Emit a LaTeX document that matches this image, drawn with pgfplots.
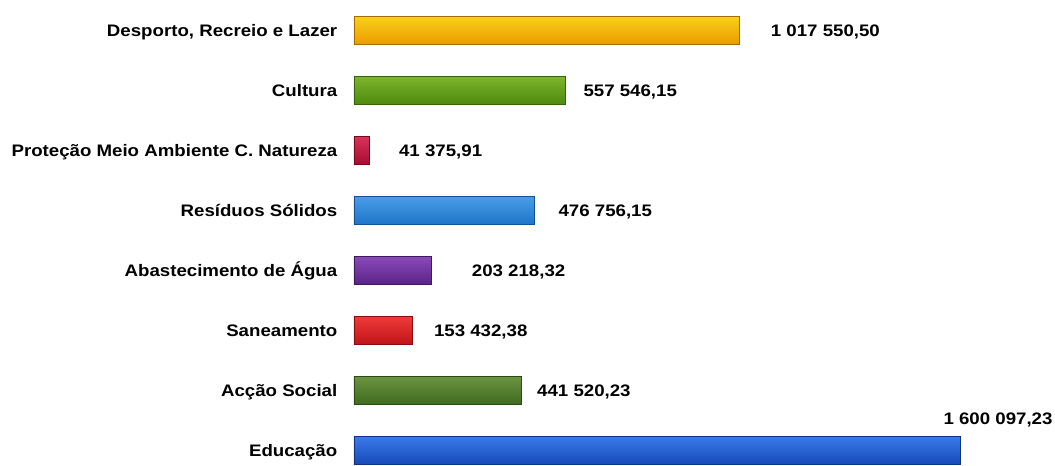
\documentclass[border=0pt]{standalone}
\usepackage{pgfplots}
\pgfplotsset{compat=1.18}
\usepackage{fontspec}
\setmainfont{Liberation Sans}
\newfontfamily\lblfont[FakeStretch=1.12]{Liberation Sans}
\definecolor{cDesA}{HTML}{F7D21A}\definecolor{cDesB}{HTML}{EE9A00}
\definecolor{cCulA}{HTML}{7DB52C}\definecolor{cCulB}{HTML}{4E8A0E}
\definecolor{cProA}{HTML}{D8345A}\definecolor{cProB}{HTML}{A80C30}
\definecolor{cResA}{HTML}{4A9EE8}\definecolor{cResB}{HTML}{1E74C8}
\definecolor{cAbaA}{HTML}{8A4AB8}\definecolor{cAbaB}{HTML}{5A2388}
\definecolor{cSanA}{HTML}{EE3A3A}\definecolor{cSanB}{HTML}{C01418}
\definecolor{cAccA}{HTML}{6A9440}\definecolor{cAccB}{HTML}{3F6A20}
\definecolor{cEduA}{HTML}{3A7AE8}\definecolor{cEduB}{HTML}{1648B8}
\begin{document}
\begin{tikzpicture}
\begin{axis}[
  name=ax,
  scale only axis,
  width=525.75pt, height=349.5pt,
  xmin=0, xmax=1850900,
  ymin=-0.254, ymax=7.5,
  axis line style={draw=none},
  clip=false,
  xbar, bar shift=0pt, bar width=0.466,
  ytick={0,1,2,3,4,5,6,7},
  yticklabels={Educação,Acção Social,Saneamento,Abastecimento de Água,Resíduos Sólidos,Proteção Meio Ambiente C. Natureza,Cultura,{Desporto, Recreio e Lazer}},
  ytick style={draw=none},
  major tick length=0pt,
  xtick=\empty,
  yticklabel style={font=\lblfont\fontsize{12.5}{14}\selectfont\bfseries, anchor=base east, xshift=-9pt, yshift=-4.5pt},
]
\addplot[draw=cDesB!70!black, top color=cDesA, bottom color=cDesB] coordinates {(1017550.50,7)};
\addplot[draw=cCulB!70!black, top color=cCulA, bottom color=cCulB] coordinates {(557546.15,6)};
\addplot[draw=cProB!70!black, top color=cProA, bottom color=cProB] coordinates {(41375.91,5)};
\addplot[draw=cResB!70!black, top color=cResA, bottom color=cResB] coordinates {(476756.15,4)};
\addplot[draw=cAbaB!70!black, top color=cAbaA, bottom color=cAbaB] coordinates {(203218.32,3)};
\addplot[draw=cSanB!70!black, top color=cSanA, bottom color=cSanB] coordinates {(153432.38,2)};
\addplot[draw=cAccB!70!black, top color=cAccA, bottom color=cAccB] coordinates {(441520.23,1)};
\addplot[draw=cEduB!70!black, top color=cEduA, bottom color=cEduB] coordinates {(1600097.23,0)};
\begin{scope}[every node/.style={font=\lblfont\fontsize{12.5}{14}\selectfont\bfseries, inner sep=0pt, yshift=-4.5pt}]
\node[anchor=base west] at (axis cs:1100050,7) {1 017 550,50};
\node[anchor=base west] at (axis cs:605290,6) {557 546,15};
\node[anchor=base west] at (axis cs:118430,5) {41 375,91};
\node[anchor=base west] at (axis cs:539500,4) {476 756,15};
\node[anchor=base west] at (axis cs:310540,3) {203 218,32};
\node[anchor=base west] at (axis cs:210540,2) {153 432,38};
\node[anchor=base west] at (axis cs:483100,1) {441 520,23};
\node[anchor=base east] at (axis cs:1845000,0.54) {1 600 097,23};
\end{scope}
\end{axis}
\pgfresetboundingbox
\path[use as bounding box] ([xshift=-265.5pt]ax.south west) rectangle (ax.north east);
\end{tikzpicture}
\end{document}
